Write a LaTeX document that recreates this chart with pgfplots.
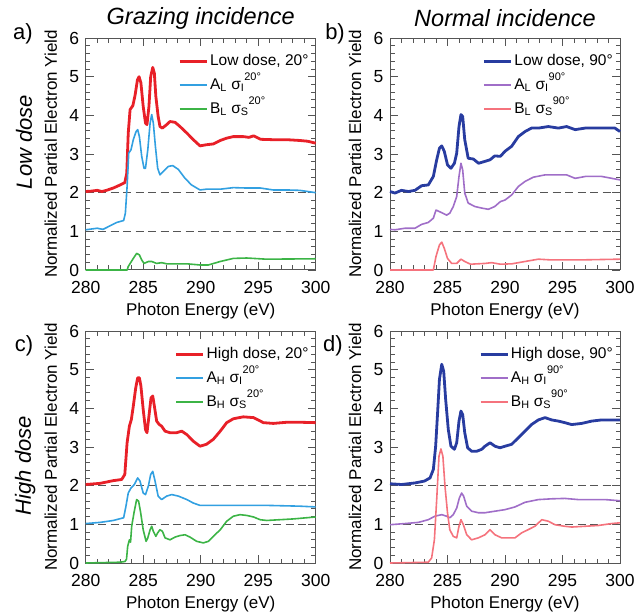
\documentclass[border=0pt]{standalone}
\usepackage{fontspec}
\setmainfont{Liberation Sans}
\usepackage{pgfplots}
\pgfplotsset{compat=1.18}

\definecolor{cRed}{RGB}{232,32,40}
\definecolor{cBlue}{RGB}{50,160,225}
\definecolor{cGreen}{RGB}{60,180,70}
\definecolor{cNavy}{RGB}{40,60,160}
\definecolor{cPurple}{RGB}{160,110,200}
\definecolor{cPink}{RGB}{245,115,125}
\definecolor{cFrame}{RGB}{85,85,85}

\newcommand{\hsup}[1]{\raisebox{9pt}{\fontsize{11}{11}\selectfont #1}}

\pgfplotsset{
  nexafs/.style={
    scale only axis, width=230pt, height=232pt,
    xmin=280, xmax=300, ymin=0, ymax=6,
    xtick={280,285,...,300}, ytick={0,1,...,6},
    minor x tick num=4, minor y tick num=4,
    tick align=inside, tick pos=both,
    major tick length=8pt, minor tick length=4.5pt,
    every tick/.style={cFrame, line width=0.8pt},
    axis line style={cFrame, line width=1pt},
    tick label style={font=\fontsize{17.5}{17.5}\selectfont},
    /pgf/number format/assume math mode=true,
    xticklabel style={yshift=-8pt},
    yticklabel style={xshift=-3pt},
    xlabel={Photon Energy (eV)},
    ylabel={Normalized Partial Electron Yield},
    xlabel style={at={(axis description cs:0.5,-0.177)}, anchor=center, font=\fontsize{17}{17}\selectfont},
    ylabel style={at={(axis description cs:-0.152,0.5)}, anchor=center, font=\fontsize{17}{17}\selectfont},
    title style={at={(axis description cs:0.5,1.06)}, anchor=center, font=\fontsize{23.5}{23.5}\selectfont\itshape},
    legend style={at={(axis description cs:1,1)}, anchor=north east, xshift=-2pt, yshift=-12pt,
      draw=none, fill=none, font=\fontsize{15.5}{15.5}\selectfont, row sep=6pt,
      nodes={text height=11pt, text depth=3pt, inner sep=2pt}},
    legend cell align=left,
    legend image code/.code={\draw[#1] (0pt,0pt) -- (27pt,0pt);},
    clip=false,
  },
  thickc/.style={line width=2.8pt, line join=round},
  thinc/.style={line width=1.6pt, line join=round},
  dashl/.style={cFrame, line width=1pt, dash pattern=on 8pt off 4.5pt, forget plot},
}

\begin{document}
\begin{tikzpicture}
\useasboundingbox (0,0) rectangle (638pt,-612pt);

% a) low dose, grazing
\begin{axis}[nexafs, at={(85.7pt,-270pt)}, anchor=south west, title={Grazing incidence}]
  \addplot[dashl] coordinates {(280,1) (300,1)};
  \addplot[dashl] coordinates {(280,2) (300,2)};
  \addplot[thickc, cRed] coordinates {
    (280,2.03)(280.5,2.04)(281,2.06)(281.4,2.03)(281.8,2.06)(282.4,2.12)(283,2.2)(283.4,2.26)
    (283.57,2.5)(283.7,3.54)(283.86,4.15)(284.1,4.25)(284.3,4.53)(284.5,4.92)(284.64,5.0)
    (284.8,4.84)(285.0,4.23)(285.2,3.8)(285.33,3.76)(285.5,4.23)(285.65,5.0)(285.83,5.24)
    (285.97,5.09)(286.1,4.49)(286.3,3.97)(286.46,3.71)(286.67,3.67)(287.04,3.76)(287.33,3.84)
    (287.77,3.82)(288.2,3.71)(288.8,3.54)(289.36,3.37)(289.94,3.21)(290.5,3.24)(291.1,3.26)
    (291.7,3.35)(292.26,3.41)(292.84,3.45)(293.7,3.45)(294.2,3.43)(294.6,3.47)(295.2,3.38)
    (296.3,3.37)(297.5,3.37)(298.6,3.35)(299.3,3.33)(300,3.28)};
  \addlegendentry{Low dose, 20°}
  \addplot[thinc, cBlue] coordinates {
    (280,1.04)(281,1.08)(281.5,1.05)(282.1,1.14)(282.7,1.23)(283.3,1.28)(283.45,1.47)(283.6,2.16)
    (283.74,3.02)(283.94,3.11)(284.14,3.37)(284.38,3.58)(284.52,3.63)(284.67,3.45)(284.87,2.94)
    (285.07,2.63)(285.2,2.63)(285.4,3.11)(285.6,3.8)(285.74,4.02)(285.88,3.8)(286.06,3.2)
    (286.26,2.63)(286.46,2.46)(286.75,2.55)(287.2,2.68)(287.57,2.7)(288.06,2.6)(288.64,2.37)
    (289.2,2.2)(289.94,2.07)(290.5,2.09)(291.7,2.09)(292.84,2.13)(294,2.12)(295.2,2.12)
    (296.3,2.07)(297.5,2.07)(298.6,2.06)(300,2.0)};
  \addlegendentry{A\textsubscript{L} σ\textsubscript{I}\hsup{20°}}
  \addplot[thinc, cGreen] coordinates {
    (280,0)(283.6,0)(283.7,0.09)(284.14,0.3)(284.43,0.43)(284.67,0.39)(284.87,0.26)(285.07,0.17)
    (285.45,0.22)(285.74,0.22)(286.17,0.17)(286.6,0.19)(287.04,0.16)(288.8,0.16)(289.94,0.13)
    (290.67,0.13)(291.7,0.22)(292.84,0.3)(294,0.31)(295.7,0.28)(300,0.29)};
  \addlegendentry{B\textsubscript{L} σ\textsubscript{S}\hsup{20°}}
  \node[font=\fontsize{22}{22}\selectfont] at (axis description cs:-0.273,1.017) {a)};
  \node[rotate=90, font=\fontsize{22}{22}\selectfont\itshape] at (axis description cs:-0.268,0.552) {Low dose};
\end{axis}

% b) low dose, normal
\begin{axis}[nexafs, at={(390pt,-270pt)}, anchor=south west, title={Normal incidence}]
  \addplot[dashl] coordinates {(280,1) (300,1)};
  \addplot[dashl] coordinates {(280,2) (300,2)};
  \addplot[thickc, cNavy] coordinates {
    (280,2.03)(280.43,1.99)(281,2.06)(281.6,2.03)(282.17,2.06)(282.75,2.18)(283.33,2.2)(283.77,2.42)
    (284.06,2.85)(284.3,3.15)(284.5,3.21)(284.72,3.07)(285.0,2.72)(285.3,2.63)(285.6,2.76)
    (285.8,3.02)(286.0,3.71)(286.17,4.02)(286.32,3.97)(286.5,3.37)(286.8,2.89)(287.25,2.87)
    (287.7,2.76)(288.26,2.81)(288.7,2.85)(289.1,2.95)(289.6,2.94)(290.0,3.07)(290.58,3.2)
    (291.16,3.45)(291.74,3.58)(292.3,3.67)(292.9,3.67)(293.77,3.71)(294.64,3.67)(295.36,3.71)
    (296.1,3.63)(296.96,3.67)(297.83,3.67)(298.7,3.67)(299.56,3.67)(300,3.58)};
  \addlegendentry{Low dose, 90°}
  \addplot[thinc, cPurple] coordinates {
    (280,1.05)(280.43,1.04)(281.3,1.08)(282.17,1.08)(282.75,1.18)(283.33,1.23)(283.77,1.34)
    (284.0,1.55)(284.3,1.51)(284.93,1.42)(285.2,1.47)(285.5,1.64)(285.8,1.9)(286.0,2.42)
    (286.17,2.76)(286.32,2.59)(286.5,1.99)(286.8,1.73)(287.4,1.64)(288.0,1.6)(288.55,1.57)
    (289.1,1.64)(289.6,1.77)(290.0,1.81)(290.58,1.94)(291.16,2.16)(291.74,2.29)(292.46,2.4)
    (293.48,2.46)(294.64,2.46)(295.36,2.46)(296.1,2.37)(297,2.42)(298.4,2.42)(300,2.33)};
  \addlegendentry{A\textsubscript{L} σ\textsubscript{I}\hsup{90°}}
  \addplot[thinc, cPink] coordinates {
    (280,0)(283.77,0)(284.0,0.35)(284.3,0.65)(284.5,0.72)(284.72,0.56)(285.0,0.3)(285.36,0.17)
    (285.8,0.17)(286.17,0.28)(286.5,0.22)(287.0,0.15)(288.26,0.17)(288.84,0.19)(289.6,0.15)
    (290.6,0.16)(291.74,0.22)(292.9,0.28)(294.06,0.26)(296.4,0.26)(300,0.28)};
  \addlegendentry{B\textsubscript{L} σ\textsubscript{S}\hsup{90°}}
  \node[font=\fontsize{22}{22}\selectfont] at (axis description cs:-0.239,1.017) {b)};
\end{axis}

% c) high dose, grazing
\begin{axis}[nexafs, at={(85.7pt,-563pt)}, anchor=south west]
  \addplot[dashl] coordinates {(280,1) (300,1)};
  \addplot[dashl] coordinates {(280,2) (300,2)};
  \addplot[thickc, cRed] coordinates {
    (280,2.03)(281.25,2.06)(282.4,2.13)(283.13,2.16)(283.4,2.29)(283.6,3.11)(283.8,3.54)(283.97,3.71)
    (284.14,4.06)(284.35,4.53)(284.52,4.79)(284.67,4.79)(284.8,4.58)(285.0,3.97)(285.2,3.45)
    (285.33,3.37)(285.5,3.8)(285.68,4.27)(285.83,4.32)(285.97,4.06)(286.17,3.67)(286.4,3.58)
    (286.6,3.54)(286.9,3.41)(287.33,3.37)(287.9,3.37)(288.35,3.41)(288.8,3.32)(289.36,3.15)
    (289.94,3.02)(290.5,3.07)(291.1,3.2)(291.7,3.41)(292.26,3.63)(292.84,3.73)(293.7,3.78)
    (294.6,3.76)(295.45,3.63)(296.3,3.61)(297.5,3.64)(298.6,3.64)(300,3.63)};
  \addlegendentry{High dose, 20°}
  \addplot[thinc, cBlue] coordinates {
    (280,1.02)(281.25,1.05)(282.4,1.1)(283.3,1.17)(283.5,1.47)(283.7,1.81)(283.94,1.94)(284.23,2.03)
    (284.52,2.2)(284.72,2.12)(285.0,1.81)(285.2,1.77)(285.45,1.99)(285.65,2.29)(285.83,2.37)
    (286.03,2.12)(286.3,1.73)(286.6,1.64)(287.04,1.73)(287.48,1.77)(288.06,1.73)(288.8,1.64)
    (289.36,1.55)(289.94,1.49)(291.4,1.49)(292.84,1.49)(295.74,1.49)(298.6,1.47)(300,1.45)};
  \addlegendentry{A\textsubscript{H} σ\textsubscript{I}\hsup{20°}}
  \addplot[thinc, cGreen] coordinates {
    (280,0)(283.0,0.02)(283.42,0.04)(283.55,0.1)(283.65,0.43)(283.8,0.6)(283.9,0.54)(284.0,0.95)
    (284.2,1.3)(284.43,1.64)(284.6,1.6)(284.78,1.3)(285.0,0.86)(285.25,0.56)(285.4,0.65)
    (285.6,0.86)(285.74,0.95)(285.88,0.82)(286.1,0.69)(286.26,0.78)(286.46,0.86)(286.67,0.82)
    (286.9,0.65)(287.33,0.6)(287.77,0.67)(288.2,0.71)(288.64,0.73)(289.07,0.67)(289.65,0.56)
    (290.23,0.52)(290.67,0.56)(291.1,0.69)(291.7,0.86)(292.26,1.08)(292.84,1.21)(293.42,1.25)
    (294.0,1.23)(294.6,1.19)(295.16,1.12)(295.74,1.1)(296.9,1.12)(298.06,1.14)(299.2,1.17)(300,1.19)};
  \addlegendentry{B\textsubscript{H} σ\textsubscript{S}\hsup{20°}}
  \node[font=\fontsize{22}{22}\selectfont] at (axis description cs:-0.268,0.935) {c)};
  \node[rotate=90, font=\fontsize{22}{22}\selectfont\itshape] at (axis description cs:-0.263,0.42) {High dose};
\end{axis}

% d) high dose, normal
\begin{axis}[nexafs, at={(390pt,-563pt)}, anchor=south west]
  \addplot[dashl] coordinates {(280,1) (300,1)};
  \addplot[dashl] coordinates {(280,2) (300,2)};
  \addplot[thickc, cNavy] coordinates {
    (280,2.05)(281,2.03)(282.17,2.07)(283.0,2.12)(283.48,2.2)(283.77,2.42)(283.97,3.02)(284.14,3.89)
    (284.3,4.75)(284.5,5.14)(284.67,4.96)(284.84,4.23)(285.07,3.45)(285.3,3.02)(285.6,2.94)
    (285.8,3.11)(286.0,3.67)(286.17,3.93)(286.32,3.84)(286.5,3.37)(286.75,2.98)(287.1,2.89)
    (287.54,2.89)(287.97,2.94)(288.26,3.02)(288.7,3.11)(289.13,3.02)(289.57,2.98)(290.0,3.02)
    (290.58,3.07)(291.16,3.24)(291.74,3.41)(292.3,3.58)(292.9,3.7)(293.48,3.76)(294.06,3.7)
    (294.64,3.67)(295.2,3.63)(295.8,3.58)(296.67,3.61)(297.54,3.67)(298.4,3.7)(299.28,3.7)(300,3.7)};
  \addlegendentry{High dose, 90°}
  \addplot[thinc, cPurple] coordinates {
    (280,0.99)(281.3,1.02)(282.46,1.05)(283.33,1.12)(283.9,1.21)(284.5,1.25)(284.93,1.21)(285.2,1.17)
    (285.5,1.25)(285.8,1.42)(286.03,1.68)(286.23,1.81)(286.4,1.73)(286.67,1.47)(287.1,1.34)
    (287.68,1.3)(288.26,1.3)(289.13,1.34)(290.0,1.38)(290.87,1.45)(291.74,1.57)(292.9,1.64)
    (294.06,1.66)(295.2,1.67)(296.38,1.64)(297.54,1.64)(298.7,1.64)(300,1.61)};
  \addlegendentry{A\textsubscript{H} σ\textsubscript{I}\hsup{90°}}
  \addplot[thinc, cPink] coordinates {
    (280,0)(283.33,0.02)(283.62,0.13)(283.86,0.6)(284.06,1.64)(284.26,2.76)(284.43,2.95)(284.6,2.76)
    (284.78,1.99)(285.0,1.3)(285.2,0.86)(285.5,0.69)(285.8,0.65)(286.0,0.95)(286.17,1.12)
    (286.38,0.99)(286.67,0.73)(287.1,0.6)(287.68,0.65)(288.26,0.73)(288.7,0.86)(289.13,0.73)
    (289.71,0.65)(290.3,0.65)(290.87,0.65)(291.45,0.78)(292.0,0.86)(292.6,0.95)(293.2,1.12)
    (293.77,1.08)(294.35,0.99)(295.2,0.95)(295.8,0.93)(296.96,0.95)(298.1,0.97)(299.28,1.02)(300,1.04)};
  \addlegendentry{B\textsubscript{H} σ\textsubscript{S}\hsup{90°}}
  \node[font=\fontsize{22}{22}\selectfont] at (axis description cs:-0.248,0.935) {d)};
\end{axis}
\end{tikzpicture}
\end{document}
